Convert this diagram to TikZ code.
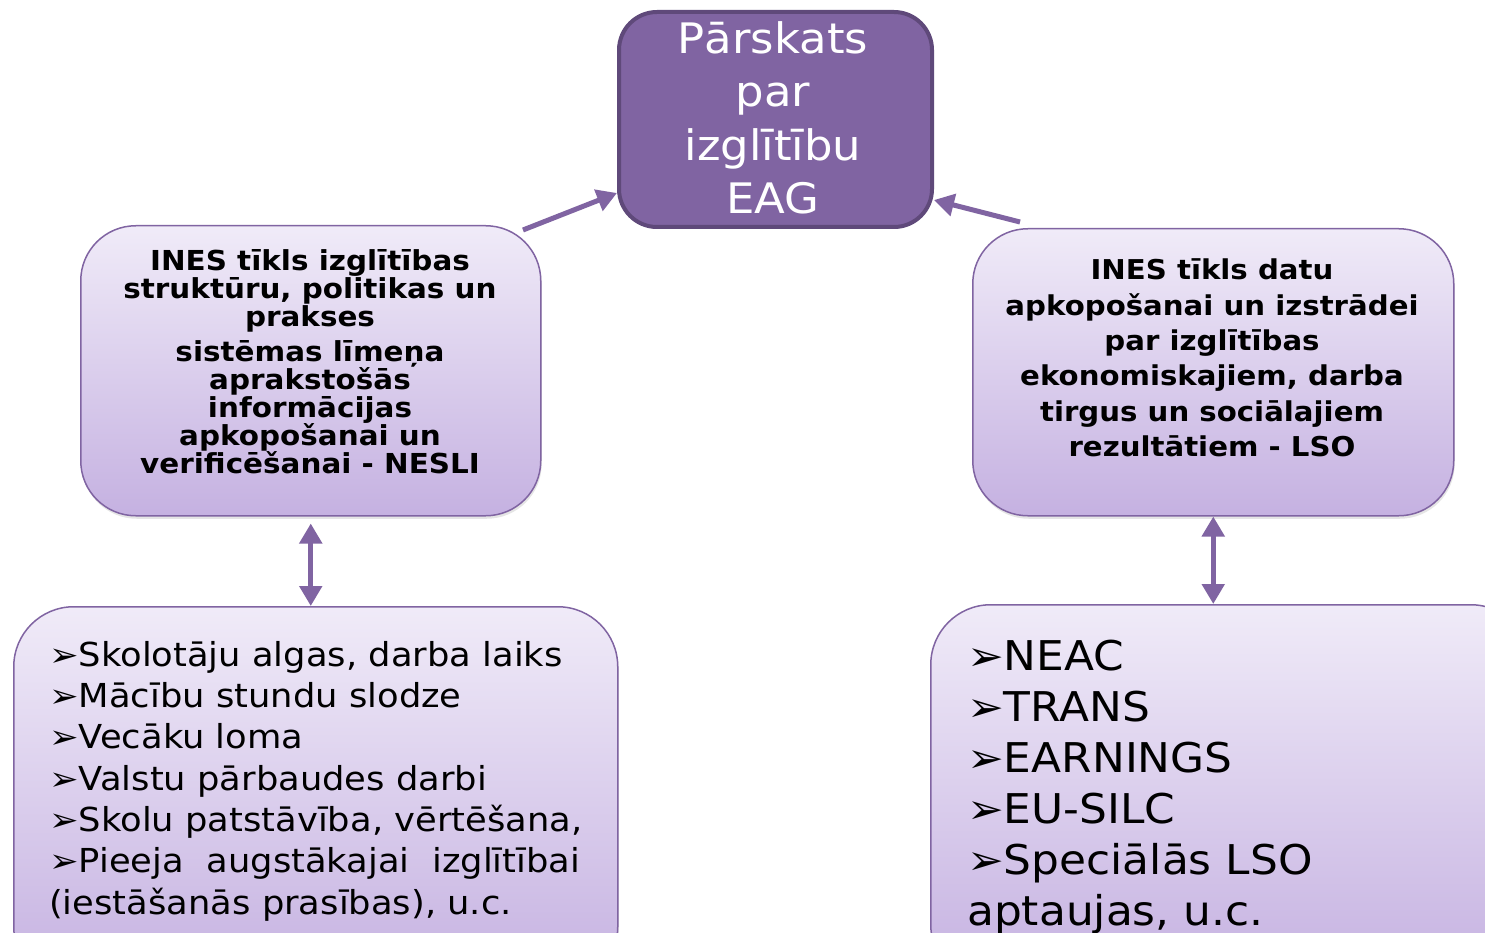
\documentclass[tikz,border=0pt]{standalone}
\usepackage{fontspec}
\setmainfont[FakeStretch=1.07]{DejaVu Sans}
\usetikzlibrary{arrows.meta,shadows,calc}
\definecolor{purp}{HTML}{8064A2}
\definecolor{purpdark}{HTML}{5F497A}
\definecolor{lavtop}{HTML}{F0EBF8}
\definecolor{lavbot}{HTML}{C5B1E1}
\begin{document}
\begin{tikzpicture}[x=1pt,y=-1pt,
  lavbox/.style={draw=purp, line width=1.5pt, top color=lavtop, bottom color=lavbot,
     drop shadow={opacity=0.2, shadow xshift=1pt, shadow yshift=-3pt}, inner sep=0pt},
  topbox/.style={draw=purpdark, line width=4pt, fill=purp, rounded corners=38pt, inner sep=0pt},
  conn/.style={draw=purp, line width=5pt, -{Triangle[length=20pt,width=22pt]}},
  dconn/.style={draw=purp, line width=5pt, {Triangle[length=20pt,width=22pt]}-{Triangle[length=20pt,width=22pt]}}]
\useasboundingbox (0,0) rectangle (1485,933);
\clip (0,0) rectangle (1485,933);
\fill[white] (0,0) rectangle (1485,933);
% boxes
\node[topbox, minimum width=313, minimum height=215, anchor=north west] (eag) at (617,10) {};
\node[lavbox, rounded corners=55pt, minimum width=460, minimum height=290, anchor=north west] (nesli) at (80,225) {};
\node[lavbox, rounded corners=55pt, minimum width=481, minimum height=287, anchor=north west] (lso) at (972,228) {};
\node[lavbox, rounded corners=60pt, minimum width=604, minimum height=380, anchor=north west] (listL) at (13,606) {};
\node[lavbox, rounded corners=60pt, minimum width=600, minimum height=380, anchor=north west] (listR) at (930,604) {};
% texts
\node[text=white, align=center, font=\fontsize{42}{53.5}\selectfont, inner sep=0pt] (eagt) at (773,118)
  {Pārskats\\par\\izglītību\\EAG};
\node[align=center, font=\bfseries\fontsize{27.5}{28}\selectfont, inner sep=0pt] (neslit) at (310,362)
  {INES tīkls izglītības\\struktūru, politikas un\\prakses\\[7pt]sistēmas līmeņa\\aprakstošās\\informācijas\\apkopošanai un\\verificēšanai - NESLI};
\node[align=center, font=\bfseries\fontsize{27.3}{35.3}\selectfont, inner sep=0pt] (lsot) at (1212,358)
  {INES tīkls datu\\apkopošanai un izstrādei\\par izglītības\\ekonomiskajiem, darba\\tirgus un sociālajiem\\rezultātiem - LSO};
\node[align=left, anchor=north west, font=\fontsize{33}{41.3}\selectfont, inner sep=0pt] (listLt) at (49,641)
  {➢Skolotāju algas, darba laiks\\➢Mācību stundu slodze\\➢Vecāku loma\\➢Valstu pārbaudes darbi\\➢Skolu patstāvība, vērtēšana,\\\makebox[531pt][s]{➢Pieeja augstākajai izglītībai}\\(iestāšanās prasības), u.c.};
\node[align=left, anchor=north west, font=\fontsize{41}{51}\selectfont, inner sep=0pt] (listRt) at (967,640)
  {➢NEAC\\➢TRANS\\➢EARNINGS\\➢EU-SILC\\➢Speciālās LSO\\aptaujas, u.c.};
% connectors
\coordinate (a1s) at (523,230);
\coordinate (a2s) at (1020,222);
\draw[conn] (a1s) -- (eag.west |- 0,193);
\draw[conn] (a2s) -- (eag.east |- 0,200);
\draw[dconn] ($(nesli.south)+(0,7)$) -- (listL.north -| nesli.south);
\draw[dconn] (lso.south) -- (listR.north -| lso.south);
\end{tikzpicture}
\end{document}
